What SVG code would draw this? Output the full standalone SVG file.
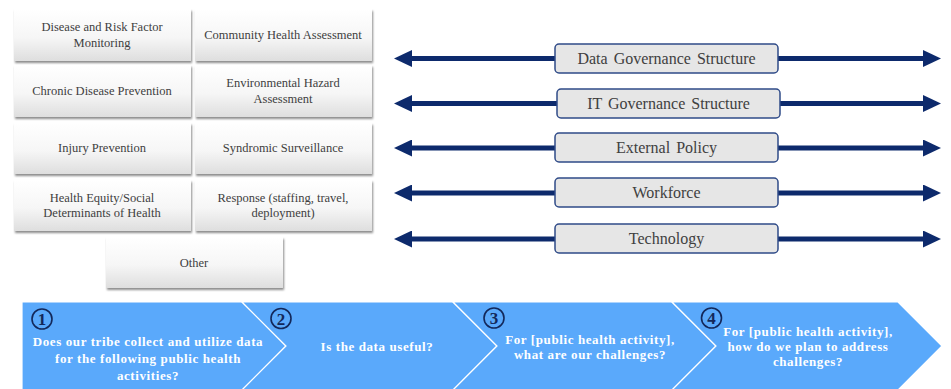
<svg xmlns="http://www.w3.org/2000/svg" width="951" height="389" viewBox="0 0 951 389">
<defs>
  <linearGradient id="gbox" x1="0" y1="0" x2="0" y2="1">
    <stop offset="0" stop-color="#ffffff"/>
    <stop offset="0.55" stop-color="#f6f6f6"/>
    <stop offset="1" stop-color="#dedede"/>
  </linearGradient>
  <filter id="sh" x="-5%" y="-10%" width="112%" height="130%">
    <feDropShadow dx="1" dy="2" stdDeviation="1.2" flood-color="#000" flood-opacity="0.45"/>
  </filter>
  <marker id="ah" viewBox="0 0 18 17" refX="0" refY="8.5" markerWidth="18" markerHeight="17" markerUnits="userSpaceOnUse" orient="auto-start-reverse">
    <path d="M0,0 L18,8.5 L0,17 Z" fill="#0d2a6c"/>
  </marker>
  <style>
    .act rect { fill: url(#gbox); filter: url(#sh); }
    .act text { font-family: 'Liberation Serif', 'DejaVu Serif', serif; font-size: 12.5px; fill: #404040; text-anchor: middle; }
    .dim rect { fill: #e6e6e6; stroke: #2f4b88; stroke-width: 1.5; }
    .dim text { font-family: 'Liberation Serif', 'DejaVu Serif', serif; font-size: 16px; fill: #404040; text-anchor: middle; word-spacing: 2px; }
    .conn path { fill: none; stroke: #0d2a6c; stroke-width: 5; marker-start: url(#ah); marker-end: url(#ah); }
    .step path { fill: #5aa9fb; stroke: #ffffff; stroke-width: 1.2; }
    .step text.q { font-family: 'Liberation Serif', 'DejaVu Serif', serif; font-weight: bold; font-size: 13px; fill: #ffffff; text-anchor: middle; letter-spacing: 0.6px; }
    .step circle { fill: none; stroke: #13285a; stroke-width: 1.6; }
    .step text.n { font-family: 'Liberation Serif', 'DejaVu Serif', serif; font-weight: bold; font-size: 17px; fill: #13285a; text-anchor: middle; }
  </style>
</defs>
<rect width="951" height="389" fill="#ffffff"/>

<!-- Activity boxes -->
<g id="act-disease" class="act"><rect x="14" y="9" width="177" height="52"/><text x="102" y="31">Disease and Risk Factor</text><text x="102" y="47">Monitoring</text></g>
<g id="act-community" class="act"><rect x="195" y="9" width="177" height="52"/><text x="283" y="39">Community Health Assessment</text></g>
<g id="act-chronic" class="act"><rect x="14" y="65" width="177" height="52"/><text x="102" y="95">Chronic Disease Prevention</text></g>
<g id="act-environmental" class="act"><rect x="195" y="65" width="177" height="52"/><text x="283" y="87">Environmental Hazard</text><text x="283" y="103">Assessment</text></g>
<g id="act-injury" class="act"><rect x="14" y="123" width="177" height="51"/><text x="102" y="152">Injury Prevention</text></g>
<g id="act-syndromic" class="act"><rect x="195" y="123" width="177" height="51"/><text x="283" y="152">Syndromic Surveillance</text></g>
<g id="act-equity" class="act"><rect x="14" y="180" width="177" height="51"/><text x="102" y="202">Health Equity/Social</text><text x="102" y="217">Determinants of Health</text></g>
<g id="act-response" class="act"><rect x="195" y="180" width="177" height="51"/><text x="283" y="202">Response (staffing, travel,</text><text x="283" y="217">deployment)</text></g>
<g id="act-other" class="act"><rect x="106" y="237" width="177" height="51"/><text x="194" y="267">Other</text></g>

<!-- Connectors (double-headed arrows) -->
<g id="connectors" class="conn">
  <path d="M412,58.5 H923"/>
  <path d="M412,103.5 H923"/>
  <path d="M412,148 H923"/>
  <path d="M412,193 H923"/>
  <path d="M412,239 H923"/>
</g>

<!-- Dimension boxes -->
<g id="dim-data" class="dim"><rect x="555" y="44" width="223" height="29" rx="4"/><text x="666.5" y="64">Data Governance Structure</text></g>
<g id="dim-it" class="dim"><rect x="557" y="89" width="223" height="29" rx="4"/><text x="668.5" y="109">IT Governance Structure</text></g>
<g id="dim-policy" class="dim"><rect x="555" y="133" width="223" height="29" rx="4"/><text x="666.5" y="153">External Policy</text></g>
<g id="dim-workforce" class="dim"><rect x="555" y="178" width="223" height="29" rx="4"/><text x="666.5" y="198">Workforce</text></g>
<g id="dim-technology" class="dim"><rect x="555" y="224" width="223" height="29" rx="4"/><text x="666.5" y="244">Technology</text></g>

<!-- Process chevrons -->
<g id="step1" class="step">
  <path d="M22,302 L242,302 L286,346 L242,390 L22,390 Z"/>
  <circle cx="42" cy="319" r="10"/>
  <text class="n" x="42" y="325">1</text>
  <text class="q" x="148" y="346">Does our tribe collect and utilize data</text>
  <text class="q" x="148" y="363">for the following public health</text>
  <text class="q" x="148" y="380">activities?</text>
</g>
<g id="step2" class="step">
  <path d="M242,302 L453,302 L497,346 L453,390 L242,390 L286,346 Z"/>
  <circle cx="281" cy="318.5" r="10"/>
  <text class="n" x="281" y="324.5">2</text>
  <text class="q" x="377" y="351">Is the data useful?</text>
</g>
<g id="step3" class="step">
  <path d="M453,302 L672,302 L716,346 L672,390 L453,390 L497,346 Z"/>
  <circle cx="494" cy="318" r="10"/>
  <text class="n" x="494" y="324">3</text>
  <text class="q" x="590" y="344">For [public health activity],</text>
  <text class="q" x="590" y="359">what are our challenges?</text>
</g>
<g id="step4" class="step">
  <path d="M672,302 L898,302 L942,346 L898,390 L672,390 L716,346 Z"/>
  <circle cx="711.5" cy="318" r="10"/>
  <text class="n" x="711.5" y="324">4</text>
  <text class="q" x="808" y="336">For [public health activity],</text>
  <text class="q" x="808" y="351">how do we plan to address</text>
  <text class="q" x="808" y="366">challenges?</text>
</g>
</svg>
